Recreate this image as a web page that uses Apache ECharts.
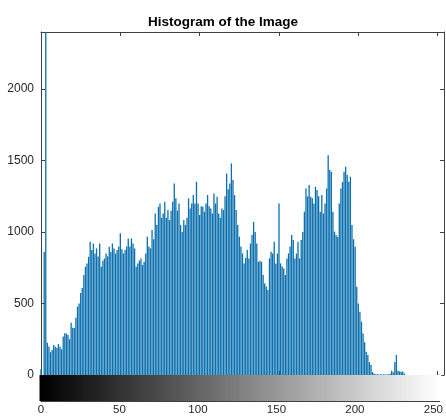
<!DOCTYPE html>
<html>
<head>
<meta charset="utf-8">
<script src="https://cdn.jsdelivr.net/npm/echarts@6/dist/echarts.min.js"></script>
<style>
html,body{margin:0;padding:0;background:#fff;}
#main{width:446px;height:416px;}
</style>
</head>
<body>
<div id="main"></div>
<script>
// Histogram counts for intensity bins 0..255
const counts = [
  40, 0, 860, 2600, 225, 200, 160, 175, 210, 198,
  190, 217, 198, 180, 270, 293, 290, 280, 250, 366,
  330, 328, 400, 478, 500, 573, 608, 700, 757, 780,
  827, 932, 874, 920, 850, 886, 830, 920, 757, 800,
  815, 851, 830, 897, 860, 920, 886, 850, 874, 900,
  991, 880, 851, 874, 900, 955, 900, 955, 920, 886,
  757, 781, 800, 816, 770, 792, 850, 967, 900, 886,
  1014, 950, 1130, 1050, 1177, 1200, 1100, 1130, 1213, 1100,
  1154, 1084, 1150, 1213, 1340, 1236, 1150, 1200, 1049, 1000,
  1084, 1049, 1100, 1236, 1165, 1200, 1259, 1200, 1352, 1200,
  1119, 1180, 1177, 1142, 1200, 1259, 1180, 1165, 1130, 1270,
  1200, 1247, 1130, 1100, 1165, 1154, 1250, 1410, 1300, 1340,
  1480, 1364, 1259, 1154, 1050, 967, 900, 851, 781, 820,
  874, 816, 920, 979, 1072, 1000, 920, 792, 800, 792,
  699, 641, 620, 594, 816, 862, 850, 932, 781, 850,
  1200, 781, 760, 746, 699, 816, 851, 900, 979, 944,
  816, 850, 932, 816, 944, 1000, 1142, 1305, 1250, 1329,
  1247, 1236, 1200, 1317, 1294, 1250, 1142, 1259, 1130, 1200,
  1305, 1538, 1434, 1422, 1142, 1003, 980, 967, 1200, 1305,
  1350, 1422, 1457, 1400, 1352, 1387, 1049, 950, 898, 617,
  500, 443, 373, 291, 230, 163, 140, 90, 70, 20,
  8, 5, 6, 4, 5, 3, 6, 4, 3, 5,
  8, 30, 20, 91, 140, 30, 25, 22, 25, 10,
  0, 0, 0, 0, 0, 0, 0, 0, 0, 0,
  0, 0, 0, 0, 0, 0, 0, 0, 0, 0,
  0, 0, 0, 0, 0, 0
];
// Intensity bin indices
const bins = counts.map((_, i) => i);
const xTicks = [0, 50, 100, 150, 200, 250];
const yTicks = [0, 500, 1000, 1500, 2000];
const titleText = 'Histogram of the Image';

const FONT = 'Liberation Sans, Arial, Helvetica, sans-serif';
const axisCol = '#404040';
const labelCol = '#262626';

const chart = echarts.init(document.getElementById('main'), null, {renderer: 'canvas'});

const xCommon = {
  type: 'value', min: 0, max: 254, interval: 50,
  splitLine: {show: false},
  axisLine: {show: true, onZero: false, lineStyle: {color: axisCol, width: 1}},
  axisTick: {show: true, inside: true, length: 4, lineStyle: {color: axisCol}},
  axisLabel: {show: false}
};
const yCommon = {
  type: 'value', min: 0, max: 2400, interval: 500,
  splitLine: {show: false},
  axisLine: {show: true, onZero: false, lineStyle: {color: axisCol, width: 1}},
  axisTick: {show: true, inside: true, length: 4, lineStyle: {color: axisCol}},
  axisLabel: {show: false}
};

chart.setOption({
  animation: false,
  backgroundColor: '#fff',
  title: {
    text: titleText, left: 'center', top: 10,
    textStyle: {fontFamily: FONT, fontSize: 13.5, fontWeight: 'bold', color: '#000'}
  },
  grid: [
    {left: 41, right: 2, top: 32, bottom: 41},
    {left: 41, right: 2, top: 375, bottom: 15}
  ],
  xAxis: [
    Object.assign({}, xCommon, {gridIndex: 0, position: 'bottom'}),
    Object.assign({}, xCommon, {gridIndex: 0, position: 'top'}),
    Object.assign({}, xCommon, {
      gridIndex: 1, position: 'bottom',
      axisLabel: {show: true, color: labelCol, fontFamily: FONT, fontSize: 11.5, margin: 3,
        formatter: v => xTicks.includes(v) ? String(v) : ''}
    })
  ],
  yAxis: [
    Object.assign({}, yCommon, {
      gridIndex: 0, position: 'left',
      axisLabel: {show: true, color: labelCol, fontFamily: FONT, fontSize: 12, margin: 7,
        showMaxLabel: false,
        formatter: v => yTicks.includes(v) ? String(v) : ''}
    }),
    Object.assign({}, yCommon, {gridIndex: 0, position: 'right'}),
    {type: 'value', gridIndex: 1, min: 0, max: 1, position: 'left',
      splitLine: {show: false}, axisTick: {show: false}, axisLabel: {show: false},
      axisLine: {show: true, lineStyle: {color: axisCol}}},
    {type: 'value', gridIndex: 1, min: 0, max: 1, position: 'right',
      splitLine: {show: false}, axisTick: {show: false}, axisLabel: {show: false},
      axisLine: {show: true, lineStyle: {color: axisCol}}}
  ],
  visualMap: {
    show: false, type: 'continuous', seriesIndex: 1, dimension: 0,
    min: 0, max: 254, inRange: {color: ['#000000', '#ffffff']}
  },
  series: [
    {
      type: 'bar', xAxisIndex: 0, yAxisIndex: 0,
      data: bins.map(i => [i, counts[i]]),
      barWidth: 1.3,
      itemStyle: {color: '#0a6fae'},
      clip: true,
      silent: true
    },
    {
      type: 'bar', xAxisIndex: 2, yAxisIndex: 2,
      data: bins.map(i => [i, 1]),
      barWidth: 3,
      clip: true,
      silent: true
    }
  ]
});
</script>
</body>
</html>
